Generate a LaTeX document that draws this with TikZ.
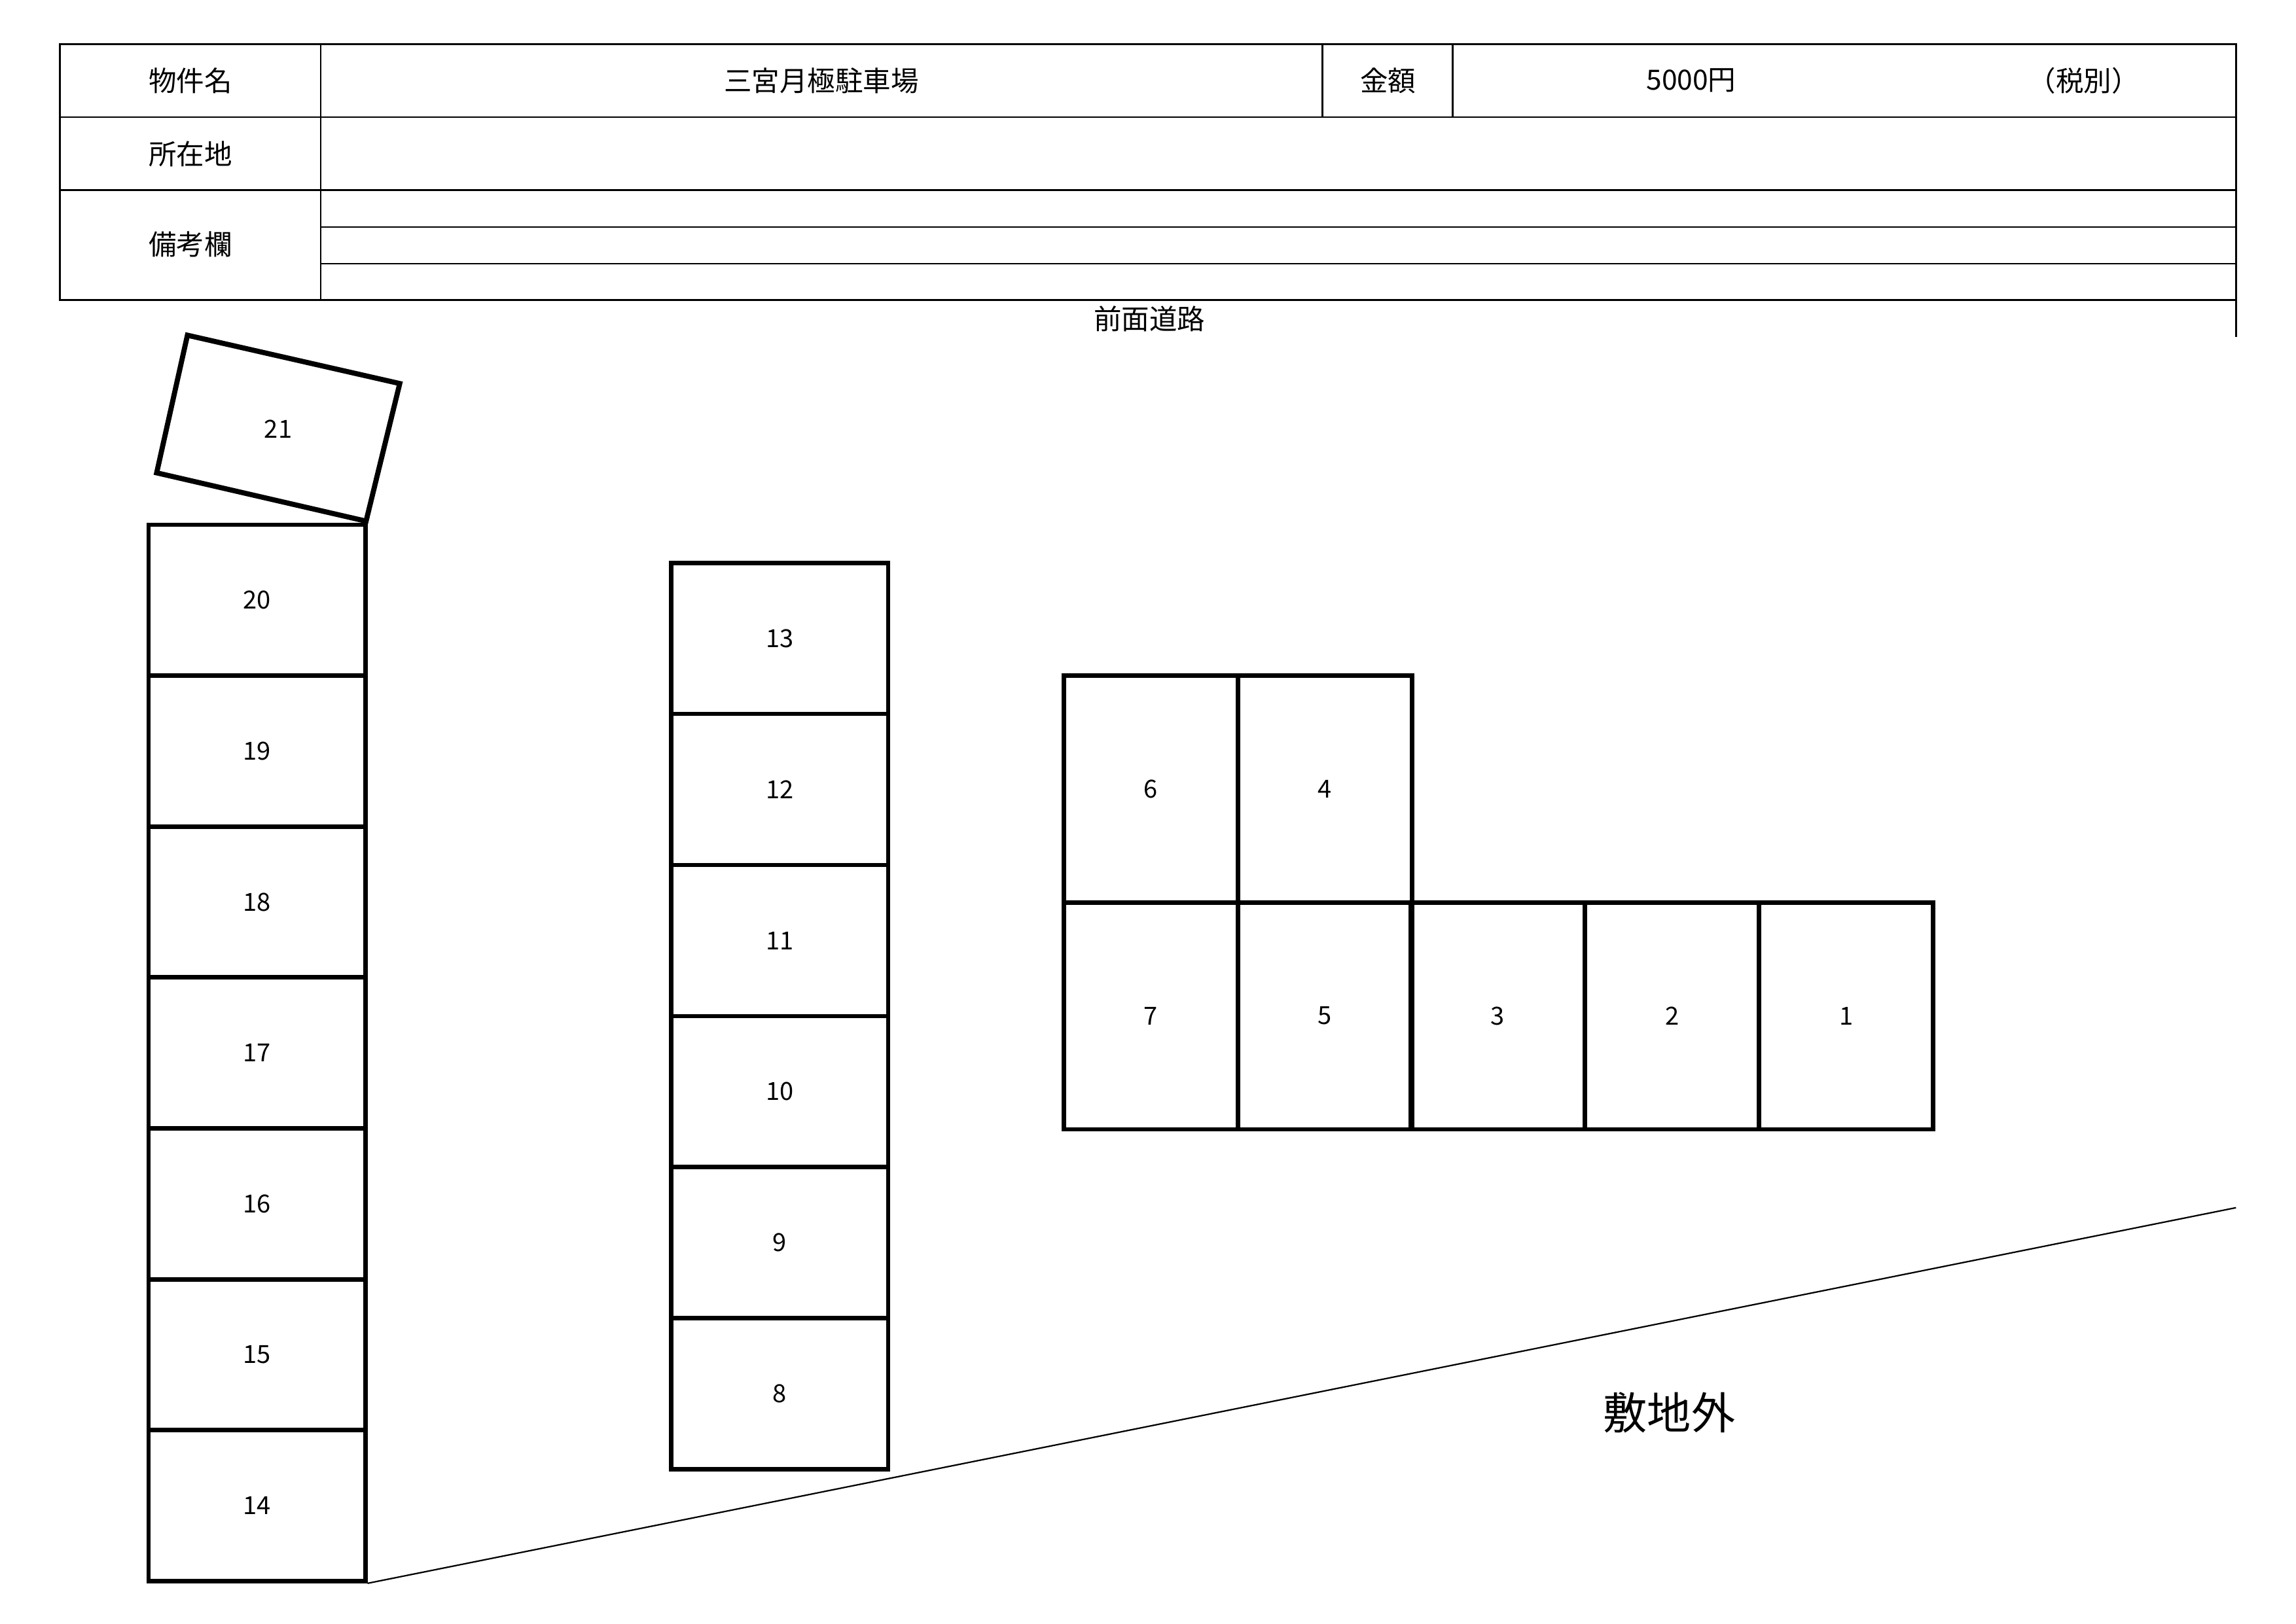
\documentclass[tikz,border=0pt]{standalone}
\usepackage{fontspec}
\setmainfont{Noto Sans CJK JP}
\begin{document}
\begin{tikzpicture}[x=1pt,y=-1pt,
  tl/.style={line width=1.3pt},
  bx/.style={draw,line width=3pt,minimum width=148pt,anchor=north west,inner sep=0pt,font=\fontsize{17}{17}\selectfont},
  tx/.style={font=\fontsize{19}{19}\selectfont}]
\useasboundingbox (0,0) rectangle (1568,1109);
% table
\draw[tl] (41,30) rectangle (1527,205);
\foreach \y in {80,130}{\draw[tl] (41,\y)--(1527,\y);}
\foreach \y in {155,180}{\draw[line width=0.8pt] (219,\y)--(1527,\y);}
\draw[tl] (219,30)--(219,205);
\draw[tl] (903,30)--(903,80);
\draw[tl] (992,30)--(992,80);
\draw[tl] (1527,205)--(1527,230);
\node[tx] (a) at (130,55) {物件名};
\node[tx] (b) at (561,55) {三宮月極駐車場};
\node[tx] (c) at (948,55) {金額};
\node[tx] (d) at (1155,55) {5000円};
\node[tx] (e) at (1423,55) {（税別）};
\node[tx] (f) at (130,105) {所在地};
\node[tx] (g) at (130,167) {備考欄};
\node[tx] (h) at (785,218) {前面道路};
% column 1
\foreach \n [count=\i from 0] in {20,19,18,17,16,15,14}{
  \node[bx,minimum height=103pt] (c\n) at (100,357+103.1*\i) {\n};}
% column 2
\foreach \n [count=\i from 0] in {13,12,11,10,9,8}{
  \node[bx,minimum height=103.2pt] (c\n) at (457,383+103.2*\i) {\n};}
% 21 rotated
\draw[line width=3.5pt] (128,229)--(273,262)--(250,356)--(107,323)--cycle;
\node[font=\fontsize{17}{17}\selectfont] (c21) at (190,293) {21};
% right block
\foreach \n/\x in {6/725,4/844}{
  \node[bx,minimum width=118.7pt,minimum height=155pt] (c\n) at (\x,460) {\n};}
\foreach \n/\x in {7/725,5/844,3/962,2/1081,1/1200}{
  \node[bx,minimum width=118.7pt,minimum height=155pt] (c\n) at (\x,615) {\n};}
% boundary
\coordinate (p) at (1527,825);
\draw[line width=1pt] (c14.south east)--(p);
\node[font=\fontsize{30}{30}\selectfont] (o) at (1140,965) {敷地外};
\end{tikzpicture}
\end{document}
